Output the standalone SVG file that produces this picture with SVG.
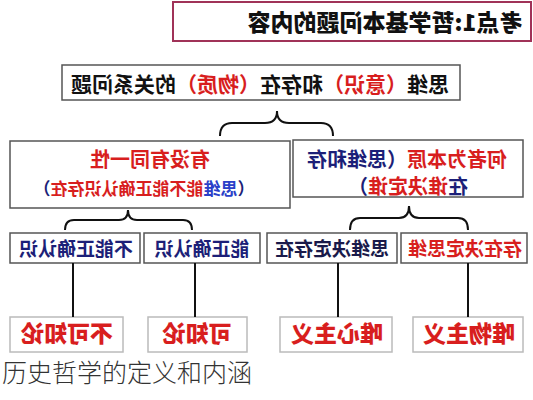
<svg xmlns="http://www.w3.org/2000/svg" width="533" height="400" viewBox="0 0 533 400">
<style>
text{font-family:"Noto Sans CJK SC","Noto Sans",sans-serif;font-weight:bold;text-anchor:middle}
.h{font-weight:900}
.r{fill:#d81e1e}.n{fill:#1c1f78}.d{fill:#1a1a4a}.b{fill:#2a40c8}.k{fill:#111}
.bx{fill:#fff;stroke:#555;stroke-width:1.5}
.bl{fill:#fff;stroke:#bbb;stroke-width:1.5}
.cn{fill:none;stroke:#111;stroke-width:2}
</style>
<rect width="533" height="400" fill="#fff"/>
<g id="title">
<rect x="173" y="2" width="358" height="39" fill="#fff" stroke="#a03258" stroke-width="2"/>
<text x="385" y="31" font-size="23" class="k h" transform="matrix(-1 0 0 1 770 0)">考点1:哲学基本问题的内容</text>
</g>
<g id="question">
<rect x="62" y="65" width="398" height="35" class="bx"/>
<text x="260" y="92" font-size="21" class="k" transform="matrix(-1 0 0 1 520 0)">思维<tspan class="r">（意识）</tspan>和存在<tspan class="r">（物质）</tspan>的关系问题</text>
</g>
<g id="identity">
<rect x="10" y="141" width="280" height="67" class="bx"/>
<text x="150" y="167" font-size="20" class="r" transform="matrix(-1 0 0 1 300 0)">有没有同一性</text>
<text x="144" y="195" font-size="17" class="n" transform="matrix(-1 0 0 1 288 0)">（<tspan class="b">思维</tspan><tspan class="r">能不能正确认识存在</tspan>）</text>
</g>
<g id="origin">
<rect x="293" y="140" width="230" height="57" class="bx"/>
<text x="407" y="167" font-size="20" class="n" transform="matrix(-1 0 0 1 814 0)"><tspan class="r">何者为本原</tspan>（思维和存</text>
<text x="408" y="194" font-size="20" class="n" transform="matrix(-1 0 0 1 816 0)">在<tspan class="r">谁决定谁</tspan>）</text>
</g>
<g id="cannot-know">
<rect x="10" y="233" width="130" height="30" class="bx"/>
<text x="76" y="256" font-size="19" class="n" transform="matrix(-1 0 0 1 152 0)">不能正确认识</text>
</g>
<g id="can-know">
<rect x="144" y="233" width="116" height="30" class="bx"/>
<text x="202" y="256" font-size="19" class="n" transform="matrix(-1 0 0 1 404 0)">能正确认识</text>
</g>
<g id="thought-decides">
<rect x="267" y="233" width="130" height="30" class="bx"/>
<text x="332" y="256" font-size="19" class="d" transform="matrix(-1 0 0 1 664 0)">思维决定存在</text>
</g>
<g id="being-decides">
<rect x="401" y="233" width="126" height="30" class="bx"/>
<text x="465" y="256" font-size="19" class="r" transform="matrix(-1 0 0 1 930 0)">存在决定思维</text>
</g>
<g id="agnosticism">
<rect x="10" y="317" width="113" height="35" class="bl"/>
<text x="67" y="342" font-size="23" class="r h" transform="matrix(-1 0 0 1 134 0)">不可知论</text>
</g>
<g id="knowability">
<rect x="148" y="317" width="99" height="35" class="bl"/>
<text x="197" y="342" font-size="23" class="r h" transform="matrix(-1 0 0 1 394 0)">可知论</text>
</g>
<g id="idealism">
<rect x="280" y="317" width="112" height="35" class="bl"/>
<text x="337" y="342" font-size="23" class="r h" transform="matrix(-1 0 0 1 674 0)">唯心主义</text>
</g>
<g id="materialism">
<rect x="413" y="317" width="110" height="35" class="bl"/>
<text x="469" y="342" font-size="23" class="r h" transform="matrix(-1 0 0 1 938 0)">唯物主义</text>
</g>
<g id="connectors">
<path class="cn" d="M220,136 Q220,123 232,123 L265,123 Q277,123 277,111 Q277,123 289,123 L321,123 Q333,123 333,136"/>
<path class="cn" d="M65,230 Q65,220 74,220 L119,220 Q128,220 128,210 Q128,220 137,220 L183,220 Q192,220 192,230"/>
<path class="cn" d="M350,230 Q350,218 360,218 L399,218 Q409,218 409,206 Q409,218 419,218 L458,218 Q468,218 468,230"/>
<path class="cn" d="M73,263 V317 M195,263 V317 M338,263 V317 M468,263 V317"/>
</g>
<text x="2" y="382" font-size="25" style="font-weight:300;text-anchor:start;fill:#333">历史哲学的定义和内涵</text>
</svg>
